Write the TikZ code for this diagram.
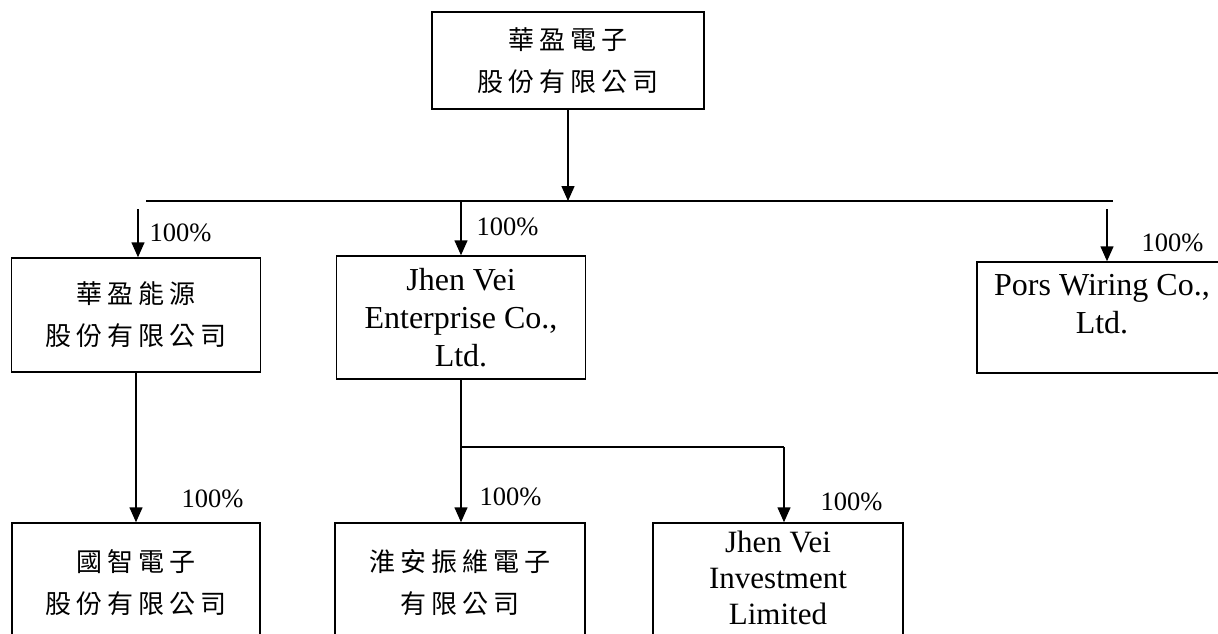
\documentclass[tikz,border=0pt]{standalone}
\usepackage{fontspec}
\setmainfont{Liberation Serif}
\newfontfamily\cjk[LetterSpace=20]{Noto Sans CJK TC}
\usetikzlibrary{arrows.meta}

\begin{document}
\begin{tikzpicture}[x=1pt,y=-1pt,
	firm/.style={draw,line width=1.5pt,inner sep=0pt,align=center,minimum width=249pt},
	zh/.style={font=\cjk\fontsize{26}{42}\selectfont},
	en/.style={font=\fontsize{32}{38}\selectfont},
	pct/.style={inner sep=0pt,font=\fontsize{26.5}{30}\selectfont},
	arr/.style={line width=1.5pt,-{Triangle[width=13pt,length=15pt]}},
	link/.style={line width=1.5pt}]
	\useasboundingbox (0,0) rectangle (1218,634);
	\clip (0,0) rectangle (1218,634);

	\node[firm,zh,minimum width=272pt,minimum height=97pt] (hy) at (568,60.5) {華盈電子\\股份有限公司};

	\node[firm,zh,minimum height=114pt] (hyne) at (136,315) {華盈能源\\股份有限公司};
	\node[firm,en,minimum height=123pt] (jve) at (461,317.5) {Jhen Vei\\Enterprise Co.,\\Ltd.};
	\node[firm,en,minimum width=250pt,minimum height=111pt,text depth=28pt] (pors) at (1102,317.5) {Pors Wiring Co.,\\Ltd.};

	\node[firm,zh,minimum width=248pt,minimum height=119pt] (gz) at (136,582.5) {國智電子\\股份有限公司};
	\node[firm,zh,minimum width=250pt,minimum height=119pt] (ha) at (460,582.5) {淮安振維電子\\有限公司};
	\node[firm,en,font=\fontsize{31}{36}\selectfont,minimum width=250pt,minimum height=122pt,text depth=12pt] (jvi) at (778,584) {Jhen Vei\\Investment\\Limited};

	\coordinate (busL) at (146,201);
	\coordinate (busR) at (1113,201);
	\coordinate (hyneIn) at (138,209);
	\coordinate (porsIn) at (1107,209);
	\coordinate (subL) at (461,447);
	\coordinate (subR) at (784,447);

	\draw[link] (busL) -- (busR);
	\draw[arr] (hy.south) -- (hy.south |- busL);
	\draw[arr] (hyneIn) -- (hyneIn |- hyne.north);
	\draw[arr] (jve.north |- busL) -- (jve.north);
	\draw[arr] (porsIn) -- (porsIn |- pors.north);
	\draw[arr] (hyne.south) -- (hyne.south |- gz.north);
	\draw[link] (jve.south) -- (subL) -- (subR);
	\draw[arr] (subL) -- (subL |- ha.north);
	\draw[arr] (subR) -- (subR |- jvi.north);

	\node[pct] (pctA) at (180.5,233) {100\%};
	\node[pct] (pctB) at (507.5,227) {100\%};
	\node[pct] (pctC) at (1172.5,243) {100\%};
	\node[pct] (pctD) at (212.5,499) {100\%};
	\node[pct] (pctE) at (510.5,497) {100\%};
	\node[pct] (pctF) at (851.5,502) {100\%};
\end{tikzpicture}
\end{document}
